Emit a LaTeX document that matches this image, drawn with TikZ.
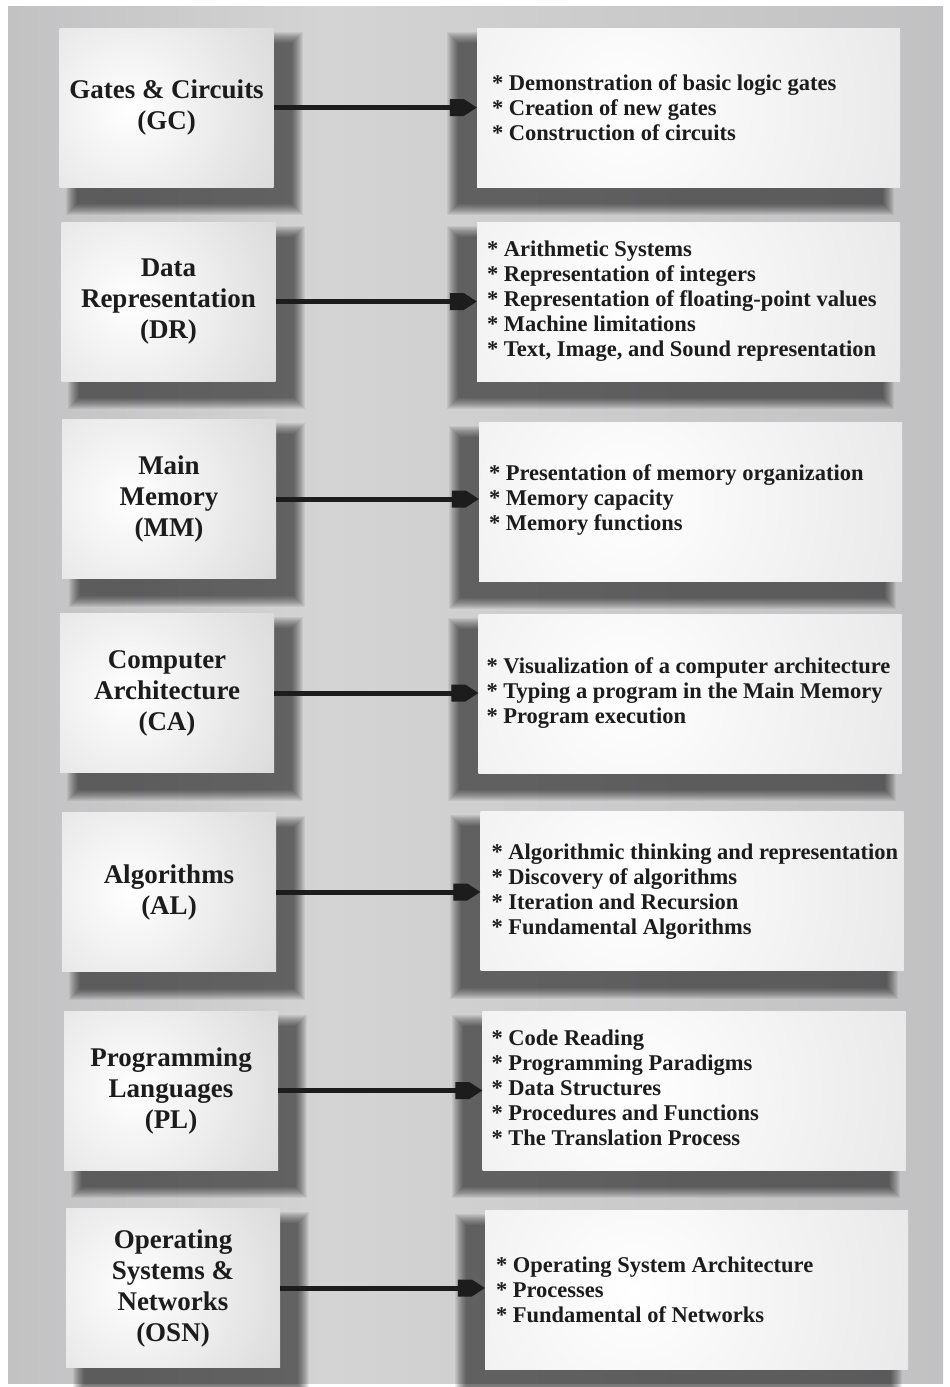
\documentclass[tikz,border=0pt]{standalone}
\usepackage{fontspec}
\setmainfont{Liberation Serif}
\usetikzlibrary{calc}
\definecolor{bgL}{HTML}{A0A0A2}
\definecolor{bgM}{HTML}{D4D4D5}
\definecolor{bgR}{HTML}{A6A6A8}
\definecolor{ink}{HTML}{1C1C1C}
\definecolor{lgray}{HTML}{CACACB}
\definecolor{rgray}{HTML}{D4D4D5}
\pgfdeclarehorizontalshading{bgshade}{100bp}{color(0bp)=(bgL); color(8bp)=(bgL!70!bgM); color(42bp)=(bgM); color(90bp)=(bgR!60!bgM); color(100bp)=(bgR)}
\pgfdeclarelayer{bglayer}
\pgfdeclarelayer{shadowlayer}
\pgfsetlayers{bglayer,shadowlayer,main}
\newcommand\titlefnt{\fontsize{27}{31}\selectfont\bfseries}
\newcommand\itemfnt{\fontsize{22.5}{25}\selectfont\bfseries}
\newcommand\conn[2]{%
  \draw[arr] (#1.east) -- (#1.east -| #2.west);
  \fill[ink] (#1.east -| #2.west) -- ++(-13pt,8.5pt) -- ++(-14pt,0pt) -- ++(0pt,-17pt) -- ++(14pt,0pt) -- cycle;}
% soft shadow: node, dx, dy, right trim, left trim
\newcommand\softshadow[5]{%
  \begin{pgfonlayer}{shadowlayer}
  \foreach \i in {0,...,11} {
    \fill[black, opacity=0.058] ($(#1.north west)+(#2+#5-12+\i,#3-12+\i)$) rectangle ($(#1.south east)+(#2+#4+12-\i,#3+12-\i)$);
  }
  \end{pgfonlayer}}
\begin{document}
\begin{tikzpicture}[x=1pt,y=-1pt,
  lbox/.style={minimum width=214pt, minimum height=159pt, inner sep=0pt, align=center,
    font=\titlefnt, text=ink, fill=lgray,
    path picture={\shade[inner color=white, outer color=lgray] ($(path picture bounding box.west)+(70pt,0pt)$) circle (240pt);}},
  rbox/.style={minimum width=423pt, minimum height=159pt, inner sep=0pt, fill=rgray,
    path picture={\shade[inner color=white, outer color=rgray] ($(path picture bounding box.west)+(150pt,0pt)$) circle (560pt);}},
  itm/.style={anchor=west, inner sep=0pt, align=left, font=\itemfnt, text=ink},
  arr/.style={line width=5pt, draw=ink, shorten >=26pt}]
\useasboundingbox (0,0) rectangle (950,1387);
\begin{pgfonlayer}{bglayer}
\fill[white] (0,0) rectangle (950,1387);
\shade[shading=bgshade] (8,6) rectangle (943,1383);
\end{pgfonlayer}

\node[lbox] (gc) at (166.5,107.5) {Gates \& Circuits\\(GC)};
\node[rbox] (gcr) at (688.5,107.5) {};
\node[itm] (gct) at ($(gcr.west)+(15,0)$) {* Demonstration of basic logic gates\\{}* Creation of new gates\\{}* Construction of circuits};

\node[lbox] (dr) at (168.5,301.5) {Data\\Representation\\(DR)};
\node[rbox] (drr) at (688.5,301.5) {};
\node[itm] (drt) at ($(drr.west)+(10,0)$) {* Arithmetic Systems\\{}* Representation of integers\\{}* Representation of floating-point values\\{}* Machine limitations\\{}* Text, Image, and Sound representation};

\node[lbox] (mm) at (169,499) {Main\\Memory\\(MM)};
\node[rbox] (mmr) at (690.5,501.5) {};
\node[itm] (mmt) at ($(mmr.west)+(10,-2)$) {* Presentation of memory organization\\{}* Memory capacity\\{}* Memory functions};

\node[lbox] (ca) at (167,693) {Computer\\Architecture\\(CA)};
\node[rbox] (car) at (690,693.5) {};
\node[itm] (cat) at ($(car.west)+(8,0)$) {* Visualization of a computer architecture\\{}* Typing a program in the Main Memory\\{}* Program execution};

\node[lbox] (al) at (169,892) {Algorithms\\(AL)};
\node[rbox] (alr) at (692,891) {};
\node[itm] (alt) at ($(alr.west)+(11,1)$) {* Algorithmic thinking and representation\\{}* Discovery of algorithms\\{}* Iteration and Recursion\\{}* Fundamental Algorithms};

\node[lbox] (pl) at (171,1090.5) {Programming\\Languages\\(PL)};
\node[rbox] (plr) at (694,1090.5) {};
\node[itm] (plt) at ($(plr.west)+(9,-3)$) {* Code Reading\\{}* Programming Paradigms\\{}* Data Structures\\{}* Procedures and Functions\\{}* The Translation Process};

\node[lbox] (osn) at (173,1288) {Operating\\Systems \&\\Networks\\(OSN)};
\node[rbox] (osnr) at (696.5,1289.5) {};
\node[itm] (osnt) at ($(osnr.west)+(11,0)$) {* Operating System Architecture\\{}* Processes\\{}* Fundamental of Networks};

\foreach \n in {gc,dr,mm,ca,al,pl,osn} {\softshadow{\n}{13}{16}{4}{6}}
\foreach \n in {gcr,drr,mmr,car,alr,plr,osnr} {\softshadow{\n}{-18}{16}{0}{0}}

\conn{gc}{gcr}
\conn{dr}{drr}
\conn{mm}{mmr}
\conn{ca}{car}
\conn{al}{alr}
\conn{pl}{plr}
\conn{osn}{osnr}
\end{tikzpicture}
\end{document}
